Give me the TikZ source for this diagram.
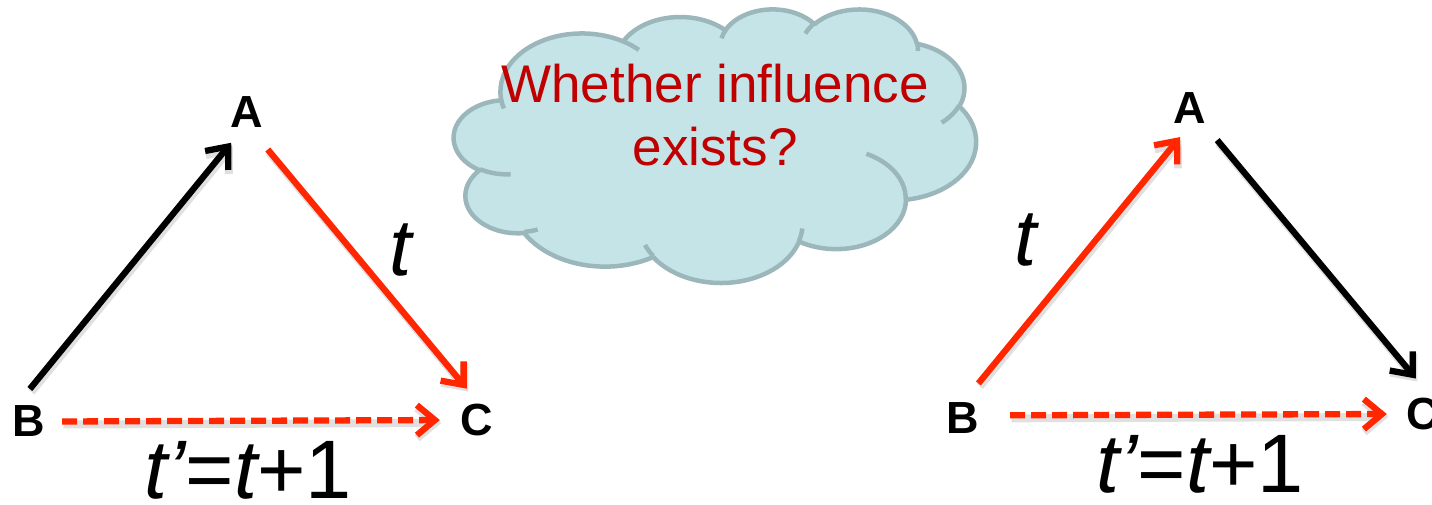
\documentclass[tikz,border=0pt]{standalone}
\usepackage{fontspec}
\setmainfont{Liberation Sans}
\usetikzlibrary{arrows.meta}

\definecolor{linkred}{RGB}{255,38,0}
\definecolor{cloudfill}{RGB}{197,228,231}
\definecolor{cloudedge}{RGB}{156,183,187}
\definecolor{asktext}{RGB}{192,0,0}

% Elliptical arc given as (x radius, y radius, start angle, sweep), where the
% angles are the visual angles from the ellipse centre (y axis pointing down).
\newcommand\ooarc[4]{arc[x radius=#1, y radius=#2,
  start angle={atan2((#1)*sin(#3),(#2)*cos(#3))},
  delta angle={mod(atan2((#1)*sin((#3)+(#4)),(#2)*cos((#3)+(#4)))-atan2((#1)*sin(#3),(#2)*cos(#3))+720,360)}]}

\tikzset{
  vtx/.style={circle, minimum size=60pt, inner sep=0pt,
    font=\fontsize{45}{54}\selectfont\bfseries},
  arrowline/.style={line width=6.3pt, -{Straight Barb[length=18pt,width=30pt]},
    preaction={draw=black, draw opacity=0.12, line width=8pt,
      transform canvas={shift={(1.5,3)}}}},
  redarrow/.style={arrowline, draw=linkred},
  blackarrow/.style={arrowline, draw=black},
  lagarrow/.style={arrowline, draw=linkred, dash pattern=on 15pt off 6pt},
  timelabel/.style={inner sep=0pt, anchor=base,
    font=\fontsize{80}{92}\selectfont\itshape},
  lagtext/.style={inner sep=0pt, anchor=base,
    font=\fontsize{83}{98}\selectfont},
  asklabel/.style={inner sep=0pt, anchor=base, text=asktext,
    font=\fontsize{53}{63}\selectfont},
  puff/.style={draw=cloudedge, line width=4.5pt, line join=round},
}

\begin{document}
\begin{tikzpicture}[x=1pt, y=-1pt]
\useasboundingbox (0,0) rectangle (1432,504);

% ---- thought cloud ----
\begin{scope}[shift={(454,8.5)}, x=1.20833pt, y=-0.63310pt]
  \draw[puff, fill=cloudfill] (39.00,143.70)
    \ooarc{67.53}{91.90}{-190.4875}{123.7805}
    \ooarc{53.33}{72.67}{-144.1024}{89.9452}
    \ooarc{43.65}{59.45}{-145.8079}{99.7230}
    \ooarc{48.57}{65.95}{-130.9861}{117.2417}
    \ooarc{53.33}{72.73}{-78.7089}{109.0269}
    \ooarc{67.75}{92.20}{-46.2673}{130.2690}
    \ooarc{57.85}{78.67}{0.6250}{114.0333}
    \ooarc{67.52}{92.15}{22.4516}{115.1726}
    \ooarc{77.20}{105.43}{66.2426}{75.7110}
    \ooarc{43.60}{59.18}{-274.9421}{146.7356}
    \ooarc{43.45}{59.45}{-246.8285}{152.5189}
    -- cycle;
  % inner creases between the puffs
  \draw[puff, line cap=butt]
    (46.93,261.77) \ooarc{43.45}{59.45}{86.742}{26.4295}
    (69.28,348.99) \ooarc{43.60}{59.18}{73.6105}{11.4475}
    (164.78,390.90) \ooarc{67.52}{92.15}{137.6242}{14.0811}
    (288.27,347.51) \ooarc{67.52}{92.15}{6.4533}{15.9984}
    (341.29,229.54) \ooarc{57.85}{78.67}{-70.2924}{70.9174}
    (417.98,153.54) \ooarc{53.33}{72.73}{30.3180}{27.7515}
    (383.24,54.26) \ooarc{48.57}{65.95}{-13.7443}{14.8589}
    (290.78,39.52) \ooarc{48.57}{65.95}{-149.1815}{18.1954}
    (221.41,47.20) \ooarc{43.65}{59.45}{-163.4943}{17.6864}
    (140.00,51.92) \ooarc{67.53}{91.90}{-66.7070}{12.3194}
    (41.27,157.89) \ooarc{67.53}{91.90}{157.6544}{11.8582};
\end{scope}
\node[asklabel] (ask1) at (715,102) {Whether influence};
\node[asklabel] (ask2) at (715,165) {exists?};

% ---- left triangle ----
\node[vtx] (A1) at (247,112.5) {A};
\node[vtx] (B1) at (29,421.5) {B};
\node[vtx] (C1) at (477,420) {C};
\draw[blackarrow, shorten <=3pt, shorten >=4pt] (B1.92) -- (A1.244);
\draw[redarrow, shorten <=12.5pt, shorten >=3pt] (A1.295) -- (C1.106);
\draw[lagarrow, shorten <=3pt, shorten >=7pt] (B1.east) -- (C1.west);
\node[timelabel] (tl1) at (401,275) {t};
\node[lagtext] (lag1) at (248,498) {{\itshape t'}={\itshape t}+1};

% ---- right triangle ----
\node[vtx] (A2) at (1190,108.5) {A};
\node[vtx] (B2) at (963,418) {B};
\node[vtx] (C2) at (1423,414) {C};
\draw[redarrow, shorten <=8pt] (B2.70) -- (A2.251);
\draw[blackarrow, shorten <=11.5pt, shorten >=7pt] (A2.311) -- (C2.95);
\draw[lagarrow, shorten <=17pt, shorten >=6pt] (B2.5) -- (C2.west);
\node[timelabel] (tl2) at (1026,265) {t};
\node[lagtext] (lag2) at (1200,492) {{\itshape t'}={\itshape t}+1};
\end{tikzpicture}
\end{document}
